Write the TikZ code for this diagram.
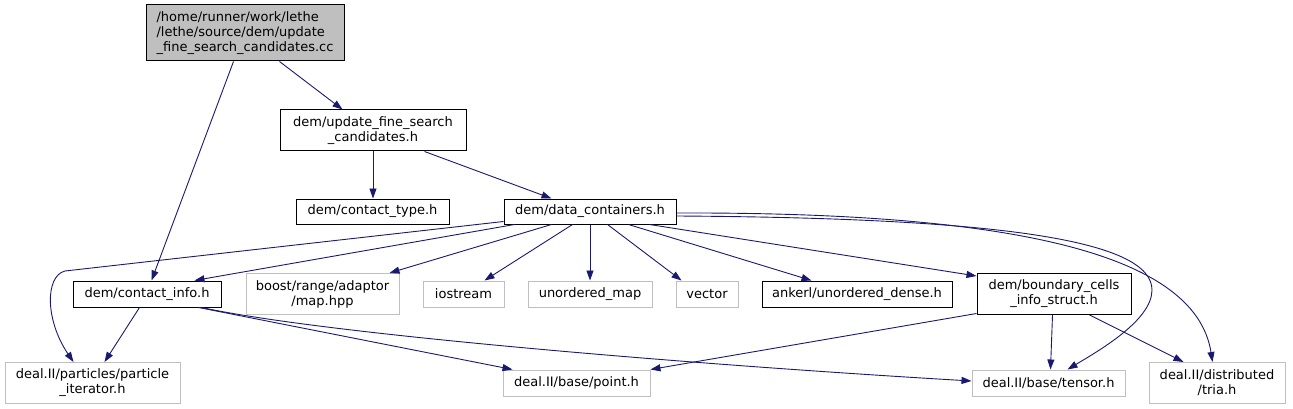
\documentclass[tikz,border=0pt]{standalone}
\usepackage{fontspec}
\setmainfont{DejaVu Sans}
\usetikzlibrary{arrows.meta}
\definecolor{edgeblue}{RGB}{25,25,112}
\definecolor{boxgray}{RGB}{191,191,191}
\definecolor{boxdark}{RGB}{64,64,64}

\begin{document}
\begin{tikzpicture}[x=1pt,y=-1pt,>={Triangle[length=10pt,width=7pt]},
  every node/.style={font=\fontsize{13}{15}\selectfont,inner sep=0pt,align=center},
  box/.style={draw=black,line width=1pt},
  sys/.style={draw=boxgray,line width=1pt},
  dep/.style={->,draw=edgeblue,line width=0.9pt}]
\useasboundingbox (0,0) rectangle (1293,409);
\node[box,fill=boxgray,align=left,minimum width=198pt,minimum height=56pt] (src) at (245,33) {/home/runner/work/lethe\\/lethe/source/dem/update\\\_fine\_search\_candidates.cc};
\node[box,minimum width=186pt,minimum height=41pt] (upd) at (373,130.5) {dem/update\_fine\_search\\\_candidates.h};
\node[box,minimum width=153pt,minimum height=25pt] (ctype) at (372.5,211.5) {dem/contact\_type.h};
\node[box,minimum width=172pt,minimum height=25pt] (dc) at (590,211.5) {dem/data\_containers.h};
\node[box,minimum width=148pt,minimum height=26pt] (cinfo) at (147,294) {dem/contact\_info.h};
\node[sys,minimum width=153pt,minimum height=41pt] (boost) at (322.5,294) {boost/range/adaptor\\/map.hpp};
\node[sys,minimum width=81pt,minimum height=26pt] (ios) at (463.5,294) {iostream};
\node[sys,minimum width=124pt,minimum height=26pt] (umap) at (590,294) {unordered\_map};
\node[sys,minimum width=62pt,minimum height=26pt] (vec) at (707,294) {vector};
\node[box,minimum width=190pt,minimum height=26pt] (ankerl) at (857,294) {ankerl/unordered\_dense.h};
\node[box,minimum width=154pt,minimum height=41pt] (bcells) at (1054,294) {dem/boundary\_cells\\\_info\_struct.h};
\node[sys,minimum width=175pt,minimum height=41pt] (piter) at (92.5,383) {deal.II/particles/particle\\\_iterator.h};
\node[sys,minimum width=147pt,minimum height=26pt] (point) at (576.5,383) {deal.II/base/point.h};
\node[sys,minimum width=153pt,minimum height=26pt] (tensor) at (1048.5,383) {deal.II/base/tensor.h};
\node[sys,minimum width=136pt,minimum height=41pt] (tria) at (1217,383) {deal.II/distributed\\/tria.h};
\draw[dep] ([xshift=88pt]src.south west) -- ([xshift=79pt]cinfo.north west);
\draw[dep] ([xshift=134pt]src.south west) -- ([xshift=63pt]upd.north west);
\draw[dep] (upd.south) -- (upd.south |- ctype.north);
\draw[dep] ([xshift=145pt]upd.south west) -- ([xshift=48pt]dc.north west);
\draw[dep] ([yshift=-10pt]dc.west) -- (65,271) .. controls (45,276) and (45,320) .. ([xshift=69pt]piter.north west);
\draw[dep] ([xshift=11pt]dc.south west) -- ([xshift=122pt]cinfo.north west);
\draw[dep] ([xshift=48pt]dc.south west) -- ([xshift=144pt]boost.north west);
\draw[dep] ([xshift=69pt]dc.south west) -- ([xshift=62pt]ios.north west);
\draw[dep] (dc.south) -- (umap.north);
\draw[dep] ([xshift=104pt]dc.south west) -- ([xshift=6pt]vec.north west);
\draw[dep] ([xshift=125pt]dc.south west) -- ([xshift=50pt]ankerl.north west);
\draw[dep] ([xshift=146pt]dc.south west) -- ([yshift=-3pt]bcells.north west);
\draw[dep] ([yshift=-4.5pt]dc.east) .. controls (1000,218) and (1152,240) .. (1152,290) .. controls (1152,320) and (1100,350) .. ([xshift=96pt]tensor.north west);
\draw[dep] ([yshift=-1.5pt]dc.east) .. controls (1000,212) and (1195,250) .. ([xshift=64pt]tria.north west);
\draw[dep] ([xshift=67pt]cinfo.south west) -- ([xshift=100pt]piter.north west);
\draw[dep] ([xshift=126pt]cinfo.south west) -- ([xshift=10pt]point.north west);
\draw[dep] ([xshift=129pt]cinfo.south west) .. controls (330,335) and (700,365) .. ([yshift=2pt]tensor.west);
\draw[dep] ([yshift=1.5pt]bcells.south west) -- (point.north east);
\draw[dep] ([xshift=76pt]bcells.south west) -- ([xshift=79pt]tensor.north west);
\draw[dep] ([xshift=113pt]bcells.south west) -- ([xshift=35pt]tria.north west);
\end{tikzpicture}
\end{document}
